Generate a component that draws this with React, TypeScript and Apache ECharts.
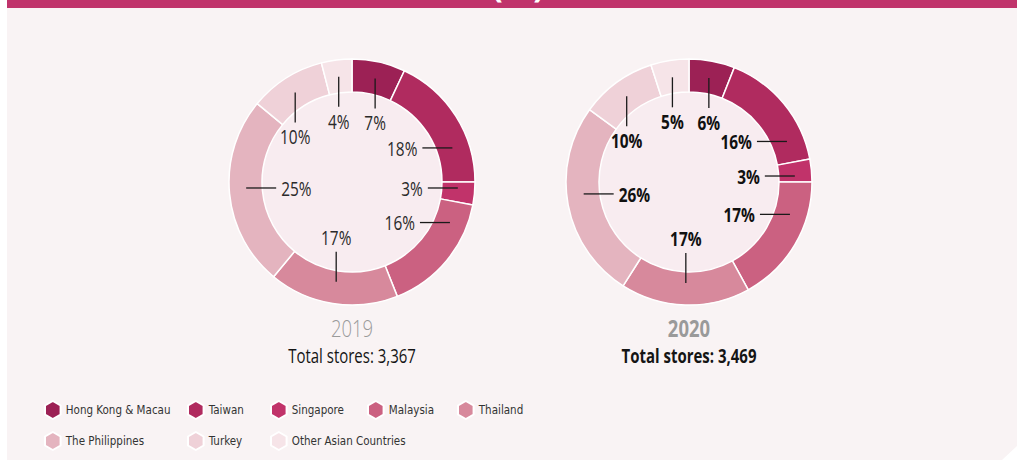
import React, { useEffect, useRef } from 'react';
import * as echarts from 'echarts';

const categories = [
  'Hong Kong & Macau',
  'Taiwan',
  'Singapore',
  'Malaysia',
  'Thailand',
  'The Philippines',
  'Turkey',
  'Other Asian Countries',
];
const share2019 = [7, 18, 3, 16, 17, 25, 10, 4];
const share2020 = [6, 16, 3, 17, 17, 26, 10, 5];
const years = ['2019', '2020'];
const totalStores = [3367, 3469];
const legendColumns = [
  ['Hong Kong & Macau', 'The Philippines'],
  ['Taiwan', 'Turkey'],
  ['Singapore', 'Other Asian Countries'],
  ['Malaysia'],
  ['Thailand'],
];

const palette = ['#9c2155', '#b02b5f', '#c1336a', '#cb6181', '#d7899c', '#e4b4bf', '#efd1d8', '#f6e4e8'];
const FONT = "'Open Sans', 'DejaVu Sans', sans-serif";
const LEGEND_FONT = "'DejaVu Sans Condensed', 'DejaVu Sans', sans-serif";
const NARROW = 0.77;
const W = 1017;
const H = 460;
const centers: number[][] = [
  [352, 182],
  [689, 182],
];
const R_IN = 90;
const R_OUT = 123;
const R_LINE = 106;
const R_LINE_BOTTOM = 101;
const LINE_LEN = 30;
const H_SQUEEZE = 0.6;
const legendLefts = [44, 187, 270, 367, 457];

function labelGeom(values: number[], idx: number, cx: number, cy: number) {
  const total = values.reduce((a, b) => a + b, 0);
  let before = 0;
  for (let i = 0; i < idx; i++) before += values[i];
  const mid = ((before + values[idx] / 2) / total) * 360;
  const mr = (mid * Math.PI) / 180;
  const s = Math.sin(mr);
  const c = Math.cos(mr);
  const horizontal = Math.abs(s) > Math.abs(c);
  let x0: number, y0: number, x1: number, y1: number, tx: number, ty: number;
  let align = 'center';
  if (horizontal) {
    const dy = -R_LINE * c * H_SQUEEZE;
    const dx = Math.sqrt(R_LINE * R_LINE - dy * dy) * (s > 0 ? 1 : -1);
    x0 = cx + dx;
    y0 = cy + dy;
    y1 = y0;
    ty = y0;
    if (s > 0) {
      x1 = x0 - LINE_LEN;
      tx = x1 - 5;
      align = 'right';
    } else {
      x1 = x0 + LINE_LEN;
      tx = x1 + 5;
      align = 'left';
    }
  } else if (c > 0) {
    x0 = cx + R_LINE * s;
    y0 = cy - R_LINE * c;
    x1 = x0;
    y1 = y0 + LINE_LEN;
    tx = x1;
    ty = y1 + 14;
  } else {
    x0 = cx + R_LINE_BOTTOM * s;
    y0 = cy - R_LINE_BOTTOM * c;
    x1 = x0;
    y1 = y0 - LINE_LEN;
    tx = x1;
    ty = y1 - 15;
  }
  return { x0, y0, x1, y1, tx, ty, align };
}

function donut(idx: number, values: number[]) {
  const [cx, cy] = centers[idx];
  return {
    type: 'pie',
    name: years[idx],
    center: [cx, cy],
    radius: [R_IN, R_OUT],
    startAngle: 90,
    clockwise: true,
    avoidLabelOverlap: false,
    silent: true,
    itemStyle: { borderColor: '#ffffff', borderWidth: 1.5 },
    label: { show: false },
    labelLine: { show: false },
    data: categories.map((name, i) => ({
      name,
      value: values[i],
      itemStyle: { color: palette[i] },
    })),
  };
}

function innerFill(idx: number) {
  return {
    type: 'pie',
    name: 'inner' + idx,
    center: centers[idx],
    radius: [0, R_IN],
    silent: true,
    label: { show: false },
    labelLine: { show: false },
    data: [{ name: '', value: 1, itemStyle: { color: '#f8ecf0' } }],
  };
}

function annotations(idx: number, values: number[], bold: boolean) {
  const [cx, cy] = centers[idx];
  const out: any[] = [];
  values.forEach((v, i) => {
    const g = labelGeom(values, i, cx, cy);
    out.push({
      type: 'line',
      z: 10,
      silent: true,
      shape: { x1: g.x0, y1: g.y0, x2: g.x1, y2: g.y1 },
      style: { stroke: '#1a1a1a', lineWidth: 1.3 },
    });
    out.push({
      type: 'text',
      z: 10,
      silent: true,
      x: g.tx,
      y: g.ty,
      scaleX: NARROW,
      style: {
        text: v + '%',
        fill: bold ? '#111111' : '#2a2a2a',
        font: `${bold ? 'bold' : 'normal'} 20px ${FONT}`,
        align: g.align,
        verticalAlign: 'middle',
      },
    });
  });
  return out;
}

export default function App() {
  const ref = useRef<HTMLDivElement>(null);
  useEffect(() => {
    if (!ref.current) return;
    const chart = echarts.init(ref.current, undefined, { renderer: 'svg' });
    const yearTexts: any[] = [];
    years.forEach((y, i) => {
      const bold = i === 1;
      yearTexts.push({
        type: 'text',
        x: centers[i][0],
        y: 327,
        scaleX: NARROW,
        style: {
          text: y,
          fill: '#9a9a9a',
          font: `${bold ? 'bold' : '300'} 24px ${FONT}`,
          align: 'center',
          verticalAlign: 'middle',
        },
      });
      yearTexts.push({
        type: 'text',
        x: centers[i][0],
        y: 355,
        scaleX: 0.75,
        style: {
          text: 'Total stores: ' + totalStores[i].toLocaleString('en-US'),
          fill: '#151515',
          font: `${bold ? 'bold' : 'normal'} 20px ${FONT}`,
          align: 'center',
          verticalAlign: 'middle',
        },
      });
    });
    const option: any = {
      animation: false,
      backgroundColor: '#ffffff',
      graphic: [
        { type: 'rect', z: -10, shape: { x: 7, y: 0, width: W - 7, height: H }, style: { fill: '#f9f3f4' } },
        { type: 'rect', z: -9, shape: { x: 7, y: 0, width: W - 7, height: 8 }, style: { fill: '#c0336b' } },
        {
          type: 'text',
          z: -8,
          x: 518,
          y: 0,
          scaleX: 0.85,
          style: { text: '(%)', fill: '#ffffff', font: `bold 40px ${FONT}`, align: 'center', verticalAlign: 'bottom' },
        },
        {
          type: 'polygon',
          z: -8,
          shape: { points: [[1002, H], [W, H], [W, 446]] },
          style: { fill: '#ffffff' },
        },
        ...yearTexts,
        ...annotations(0, share2019, false),
        ...annotations(1, share2020, true),
      ],
      legend: legendColumns.map((names, i) => ({
        orient: 'vertical',
        left: legendLefts[i],
        top: 400,
        padding: 0,
        itemGap: 11,
        itemWidth: 16,
        itemHeight: 18,
        icon: 'path://M0,-1 L0.866,-0.5 L0.866,0.5 L0,1 L-0.866,0.5 L-0.866,-0.5 Z',
        selectedMode: false,
        textStyle: { fontFamily: LEGEND_FONT, fontSize: 11.5, color: '#333333' },
        data: names,
      })),
      series: [innerFill(0), innerFill(1), donut(0, share2019), donut(1, share2020)],
    };
    chart.setOption(option);
    return () => chart.dispose();
  }, []);
  return <div ref={ref} style={{ position: 'fixed', left: 0, top: 0, width: W, height: H }} />;
}
